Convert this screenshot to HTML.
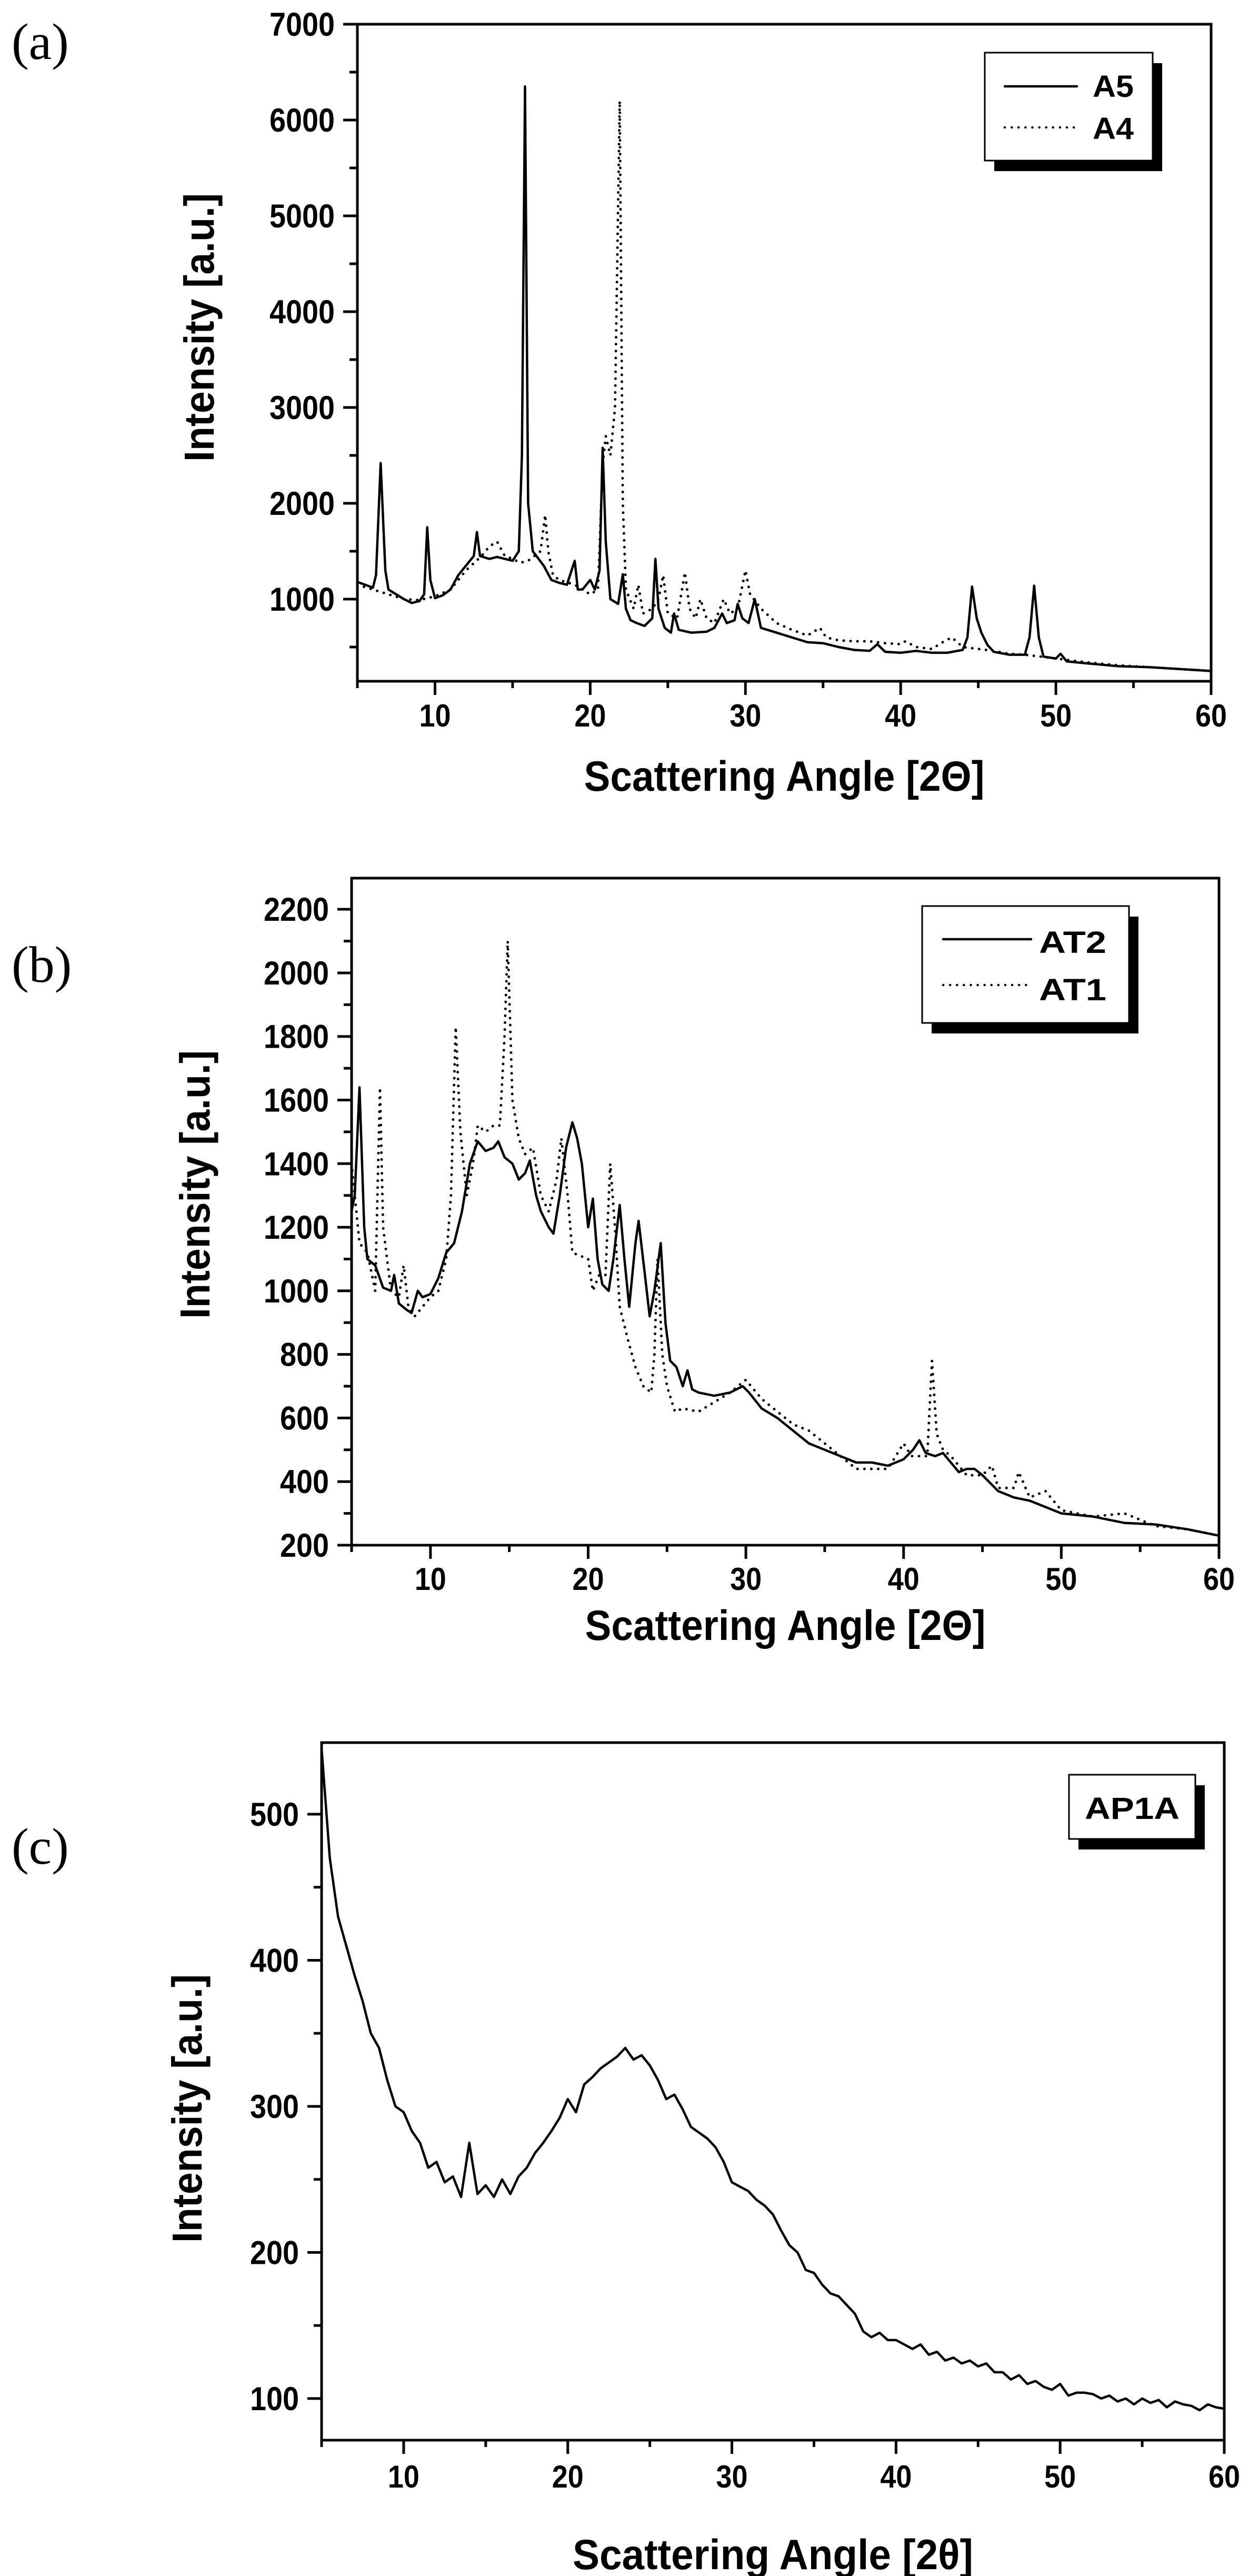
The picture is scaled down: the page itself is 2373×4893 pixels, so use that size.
<!DOCTYPE html>
<html><head><meta charset="utf-8"><style>
html,body{margin:0;padding:0;background:#fff;}
svg{display:block;}
text{font-family:"Liberation Sans Narrow","Liberation Sans",sans-serif;font-weight:bold;fill:#000;}
.serif{font-family:"Liberation Serif",serif;font-weight:normal;}
</style></head><body>
<svg id="fig" xmlns="http://www.w3.org/2000/svg" width="2373" height="4893" viewBox="0 0 2373 4893"></svg>
<script>
// ---- Panel (a) data ----
const aA5Angle=[5,5.5,6,6.2,6.5,6.8,7,7.5,8,8.5,9,9.3,9.5,9.7,10,10.5,11,11.5,12,12.5,12.7,12.9,13.5,14,14.5,15,15.4,15.6,15.8,16,16.3,17,17.5,18,18.5,18.9,19,19.2,19.5,20,20.3,20.6,20.8,21,21.3,21.8,22.1,22.3,22.6,23,23.5,24,24.2,24.4,24.8,25.2,25.4,25.7,26.5,27.5,28,28.5,28.8,29.3,29.5,29.8,30.2,30.6,31,32,33,34,35,36,37,38,38.5,39,40,41,42,43,44,44.3,44.6,44.9,45.2,45.6,46,47,48,48.3,48.6,48.9,49.2,50,50.3,50.7,52,54,56,58,60];
const aA5Intensity=[1180,1150,1120,1250,2420,1300,1100,1050,1000,960,980,1050,1750,1200,1010,1040,1100,1250,1350,1450,1700,1450,1420,1440,1420,1400,1500,2500,6350,2000,1500,1350,1200,1170,1150,1350,1400,1100,1100,1200,1100,1300,2580,1600,1000,950,1260,900,780,750,720,800,1420,900,700,650,850,680,650,660,700,850,750,780,950,800,750,1000,700,650,600,550,540,500,470,460,530,450,440,460,440,440,470,600,1130,800,650,520,450,420,420,600,1140,600,400,380,430,350,330,300,290,270,250];
const aA4Angle=[5,6,7,8,9,10,11,12,13,13.5,14,14.5,15,15.5,16,16.8,17.1,17.3,17.6,18,19,20,20.5,20.8,21,21.3,21.6,21.9,22.1,22.3,22.8,23.1,23.4,24,24.4,24.7,25,25.6,26.1,26.4,26.8,27.1,27.5,28,28.6,29,29.5,30,30.3,31,32,33,34,34.8,35.2,36,37,38,39,40,40.3,41,42,42.8,43.3,44,45,46,47,48,49,50,52,54,56,58,60];
const aA4Intensity=[1150,1100,1050,1000,990,1030,1100,1300,1450,1550,1600,1450,1420,1380,1400,1500,1880,1500,1250,1200,1150,1050,1100,2400,2700,2500,3000,6200,2000,1100,900,1150,850,900,1000,1250,850,800,1280,900,800,1000,800,750,1000,850,900,1300,1050,900,750,680,620,700,600,570,560,560,540,530,560,500,480,560,600,500,480,460,430,420,400,380,340,310,290,270,250];
const aYTicks=[1000,2000,3000,4000,5000,6000,7000];
const aYMinor=[500,1500,2500,3500,4500,5500,6500];
// ---- Panel (b) data ----
const bAT2Angle=[5,5.2,5.5,5.8,6,6.5,7,7.5,7.7,8,8.5,8.8,9.2,9.5,10,10.5,11,11.5,12,12.5,13,13.5,14,14.3,14.7,15.2,15.6,16,16.3,16.7,17,17.5,17.8,18.2,18.6,19,19.3,19.6,20,20.3,20.6,20.9,21.3,21.6,22,22.3,22.6,23,23.2,23.6,23.9,24.2,24.6,24.9,25.2,25.6,26,26.3,26.6,27,28,29,29.8,30.2,31,32,33,34,35,36,37,38,39,40,40.6,41,41.4,42,42.5,43,43.5,44,44.5,45,46,47,48,49,50,52,54,56,58,60];
const bAT2Intensity=[1250,1300,1640,1200,1100,1080,1010,1000,1050,960,940,930,1000,980,990,1040,1120,1150,1250,1400,1470,1440,1450,1470,1420,1400,1350,1370,1410,1300,1250,1200,1180,1300,1450,1530,1480,1400,1200,1290,1100,1020,1000,1100,1270,1100,950,1150,1220,1050,920,1000,1150,900,780,760,700,750,690,680,670,680,700,680,630,600,560,520,500,480,460,460,450,470,500,530,490,480,490,460,430,440,440,420,370,350,340,320,300,290,270,265,250,230];
const bAT1Angle=[5,5.5,6,6.5,6.8,7,7.5,8,8.3,8.6,9,10,10.5,11,11.3,11.6,11.9,12.3,12.7,13,13.5,14,14.4,14.7,14.9,15.2,15.6,16,16.5,17,17.5,18,18.3,18.7,19,19.5,20,20.3,20.7,21.1,21.4,21.7,22,22.5,23,23.5,24,24.2,24.4,24.7,25,25.5,26,27,28,29,30,31,32,33,34,35,36,37,38,39,40,40.5,41.5,41.8,42.1,42.5,43,44,45,45.6,46,47,47.3,48,49,50,52,54,56,58,60];
const bAT1Intensity=[1400,1150,1120,1000,1640,1200,1000,980,1080,950,920,980,1000,1100,1300,1830,1500,1300,1400,1520,1500,1520,1520,1800,2100,1600,1480,1430,1450,1300,1250,1350,1480,1300,1120,1110,1100,1000,1050,1050,1400,1200,950,850,760,700,680,800,1100,800,700,620,630,620,650,680,720,660,620,580,560,520,480,440,440,440,520,480,480,780,550,500,480,420,420,450,380,380,430,350,370,310,290,300,260,250,230];
const bYTicks=[200,400,600,800,1000,1200,1400,1600,1800,2000,2200];
const bYMinor=[300,500,700,900,1100,1300,1500,1700,1900,2100];
// ---- Panel (c) data ----
const cAngle=[5,5.5,6,6.5,7,7.5,8,8.5,9,9.5,10,10.5,11,11.5,12,12.5,13,13.5,14,14.5,15,15.5,16,16.5,17,17.5,18,18.5,19,19.5,20,20.5,21,21.5,22,22.5,23,23.5,24,24.5,25,25.5,26,26.5,27,27.5,28,28.5,29,29.5,30,30.5,31,31.5,32,32.5,33,33.5,34,34.5,35,35.5,36,36.5,37,37.5,38,38.5,39,39.5,40,40.5,41,41.5,42,42.5,43,43.5,44,44.5,45,45.5,46,46.5,47,47.5,48,48.5,49,49.5,50,50.5,51,51.5,52,52.5,53,53.5,54,54.5,55,55.5,56,56.5,57,57.5,58,58.5,59,59.5,60];
const cIntensity=[545,470,430,410,390,372,350,340,318,300,296,283,275,258,262,248,252,238,275,240,246,238,250,240,252,258,268,275,283,292,305,296,315,320,326,330,334,340,332,335,328,318,305,308,298,286,282,278,272,262,248,245,242,236,232,226,215,205,200,188,186,178,172,170,164,158,146,142,145,140,140,137,134,137,130,132,126,128,124,126,122,124,118,118,113,116,110,112,108,106,110,102,104,104,103,100,102,98,100,96,100,97,99,94,98,96,95,92,96,94,93];
const cYTicks=[100,200,300,400,500];
const cYMinor=[150,250,350,450];
const xTicks=[10,20,30,40,50,60];
const xMinor=[5,15,25,35,45,55];

const NS='http://www.w3.org/2000/svg';
const svg=document.getElementById('fig');
function mk(tag,attrs,parent){const e=document.createElementNS(NS,tag);for(const k in attrs)e.setAttribute(k,attrs[k]);(parent||svg).appendChild(e);return e;}

function drawPanel(p){
  const g=mk('g',{});
  
  
  const sx=v=>p.L+(v-5)/(60-5)*(p.R-p.L);
  const sy=v=>p.B-(v-p.ymin)/(p.ymax-p.ymin)*(p.B-p.T);
  p.series.forEach(s=>{
    let d='';
    s.x.forEach((xv,i)=>{d+=(i?'L':'M')+sx(xv).toFixed(1)+','+sy(s.y[i]).toFixed(1);});
    const path=mk('path',{d:d,fill:'none',stroke:'#000','stroke-width':s.dotted?5:4.5,'stroke-linejoin':'round','stroke-linecap':'round','stroke-dasharray':s.dotted?'0.1 13':'none'},g);
    
    
  });
  const fr=mk('rect',{x:p.L,y:p.T,width:p.R-p.L,height:p.B-p.T,fill:'none',stroke:'#000','stroke-width':5},g);
  
  
  mk('line',{x1:p.R,y1:p.B,x2:p.R,y2:p.B+26,stroke:'#000','stroke-width':5},g);
  p.yT.forEach(v=>{
    const y=sy(v);
    mk('line',{x1:p.L-27,y1:y,x2:p.L,y2:y,stroke:'#000','stroke-width':5},g);
    const t=mk('text',{x:p.L-43,y:y+22,'text-anchor':'end','font-size':63,textLength:String(v).length*31,lengthAdjust:'spacingAndGlyphs'},g);
    t.textContent=String(v);
    
    
  });
  p.yM.forEach(v=>{const y=sy(v);if(y<p.T||y>p.B)return;mk('line',{x1:p.L-15,y1:y,x2:p.L,y2:y,stroke:'#000','stroke-width':5},g);});
  xTicks.forEach(v=>{
    const x=sx(v);
    mk('line',{x1:x,y1:p.B,x2:x,y2:p.B+26,stroke:'#000','stroke-width':5},g);
    const t=mk('text',{x:x,y:p.xLab,'text-anchor':'middle','font-size':60,textLength:String(v).length*30,lengthAdjust:'spacingAndGlyphs'},g);
    t.textContent=String(v);
    
    
  });
  xMinor.forEach(v=>{const x=sx(v);mk('line',{x1:x,y1:p.B,x2:x,y2:p.B+13,stroke:'#000','stroke-width':5},g);});
  const xt=mk('text',{x:(p.L+p.R)/2,y:p.xTitle,'text-anchor':'middle','font-size':81,textLength:761,lengthAdjust:'spacingAndGlyphs'},g);
  xt.textContent=p.xTitleText;
  
  
  const yt=mk('text',{x:0,y:0,'text-anchor':'middle','font-size':80,textLength:510,lengthAdjust:'spacingAndGlyphs',transform:'translate('+p.yTitleX+','+p.yTitleY+') rotate(-90)'},g);
  yt.textContent='Intensity [a.u.]';
  
  
  const pl=mk('text',{x:22,y:p.labY,'font-size':98,'class':'serif'},g);
  pl.textContent=p.label;
  
  
  const lg=mk('g',{},g);
  
  
  const l=p.leg;
  mk('rect',{x:l.x+18,y:l.y+20,width:l.w,height:l.h,fill:'#000'},lg);
  mk('rect',{x:l.x,y:l.y,width:l.w,height:l.h,fill:'#fff',stroke:'#000','stroke-width':3},lg);
  l.items.forEach(it=>{
    if(it.line){
      const ln=mk('line',{x1:it.lx1,y1:it.ly,x2:it.lx2,y2:it.ly,stroke:'#000','stroke-width':4.5,'stroke-linecap':'round','stroke-dasharray':it.dotted?'0.1 13':'none'},lg);
      
      
    }
    const t=mk('text',{x:it.tx,y:it.ty,'font-size':it.fs||58,'text-anchor':it.anchor||'start',textLength:it.tl,lengthAdjust:'spacingAndGlyphs'},lg);
    t.textContent=it.text;
    
    
  });
}

drawPanel({id:'a',L:679,R:2301,T:46,B:1294,ymin:143,ymax:7000,yT:aYTicks,yM:aYMinor,xLab:1380,xTitle:1502,xTitleText:'Scattering Angle [2\u0398]',yTitleX:406,yTitleY:622,label:'(a)',labY:112,
  series:[{name:'a4',x:aA4Angle,y:aA4Intensity,dotted:true},{name:'a5',x:aA5Angle,y:aA5Intensity,dotted:false}],
  leg:{x:1871,y:100,w:319,h:205,items:[
    {line:true,lx1:1909,lx2:2046,ly:164,tx:2076,ty:184,text:'A5',tl:78},
    {line:true,dotted:true,lx1:1909,lx2:2046,ly:242,tx:2076,ty:264,text:'A4',tl:78}]}});
drawPanel({id:'b',L:668,R:2316,T:1668,B:2935,ymin:200,ymax:2298,yT:bYTicks,yM:bYMinor,xLab:3020,xTitle:3115,xTitleText:'Scattering Angle [2\u0398]',yTitleX:398,yTitleY:2250,label:'(b)',labY:1865,
  series:[{name:'at1',x:bAT1Angle,y:bAT1Intensity,dotted:true},{name:'at2',x:bAT2Angle,y:bAT2Intensity,dotted:false}],
  leg:{x:1752,y:1721,w:393,h:222,items:[
    {line:true,lx1:1792,lx2:1959,ly:1784,tx:1974,ty:1810,text:'AT2',tl:128},
    {line:true,dotted:true,lx1:1792,lx2:1959,ly:1871,tx:1974,ty:1900,text:'AT1',tl:128}]}});
drawPanel({id:'c',L:611,R:2326,T:3310,B:4635,ymin:71.5,ymax:549,yT:cYTicks,yM:cYMinor,xLab:4725,xTitle:4880,xTitleText:'Scattering Angle [2\u03B8]',yTitleX:383,yTitleY:4005,label:'(c)',labY:3540,
  series:[{name:'ap1a',x:cAngle,y:cIntensity,dotted:false}],
  leg:{x:2031,y:3371,w:240,h:122,items:[
    {line:false,tx:2151,ty:3455,text:'AP1A',anchor:'middle',tl:180}]}});
</script>
</body></html>
